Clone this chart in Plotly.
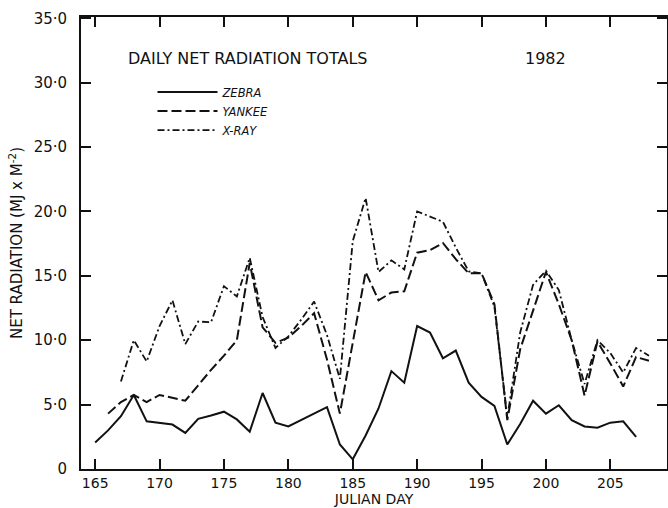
import plotly.graph_objects as go

# ---- data ----
zebra_days = list(range(165, 208))
zebra_vals = [2.05, 3.0, 4.1, 5.75, 3.7, 3.55, 3.45, 2.8, 3.9, 4.15,
              4.45, 3.85, 2.9, 5.9, 3.6, 3.3, 3.8, 4.3, 4.8, 1.9,
              0.75, 2.6, 4.7, 7.6, 6.7, 11.1, 10.6, 8.6, 9.2, 6.7,
              5.6, 4.9, 1.9, 3.5, 5.3, 4.3, 4.95, 3.8, 3.3, 3.2,
              3.6, 3.7, 2.5]

yankee_days = list(range(166, 209))
yankee_vals = [4.3, 5.2, 5.75, 5.2, 5.75, 5.55, 5.3, 6.5, 7.7, 8.8,
               10.0, 16.0, 11.0, 9.8, 10.2, 11.1, 12.1, 8.5, 4.3, 9.8,
               15.3, 13.1, 13.7, 13.8, 16.8, 17.0, 17.55, 16.3, 15.2, 15.2,
               12.8, 3.8, 9.3, 12.3, 15.3, 12.8, 10.0, 5.7, 9.9, 8.2,
               6.4, 8.7, 8.4]

xray_days = list(range(167, 209))
xray_vals = [6.8, 10.0, 8.35, 11.1, 13.1, 9.7, 11.45, 11.4, 14.2, 13.4,
             16.4, 11.8, 9.4, 10.3, 11.6, 13.0, 10.4, 7.0, 17.7, 21.05,
             15.3, 16.2, 15.5, 20.0, 19.6, 19.2, 17.2, 15.35, 15.2, 12.6,
             4.0, 10.6, 14.3, 15.4, 13.9, 10.0, 6.6, 10.0, 9.0, 7.5,
             9.4, 8.8]

x_ticks = [165, 170, 175, 180, 185, 190, 195, 200, 205]
y_ticks = [0, 5, 10, 15, 20, 25, 30, 35]
y_tick_labels = ["0", "5·0", "10·0", "15·0", "20·0", "25·0", "30·0", "35·0"]

title_text = "DAILY NET RADIATION TOTALS"
year_text = "1982"

INK = "#111111"
FONT = "DejaVu Sans"

fig = go.Figure()
fig.add_trace(go.Scatter(x=zebra_days, y=zebra_vals, mode="lines", name="ZEBRA",
                         line=dict(color=INK, width=2.0, dash="solid")))
fig.add_trace(go.Scatter(x=yankee_days, y=yankee_vals, mode="lines", name="YANKEE",
                         line=dict(color=INK, width=2.0, dash="10px,4px")))
fig.add_trace(go.Scatter(x=xray_days, y=xray_vals, mode="lines", name="X-RAY",
                         line=dict(color=INK, width=1.8, dash="7px,3px,2px,3px")))

axis_common = dict(showline=True, linecolor=INK, linewidth=1.8, mirror="ticks",
                   ticks="inside", ticklen=10, tickwidth=1.5, tickcolor=INK,
                   showgrid=False, zeroline=False, automargin=False)

fig.update_xaxes(range=[163.9, 209.4], tickvals=x_ticks,
                 ticktext=[str(v) for v in x_ticks], ticklabelstandoff=0,
                 tickfont=dict(family=FONT, size=14, color=INK),
                 title=dict(text="JULIAN DAY", font=dict(family=FONT, size=14, color=INK),
                            standoff=4),
                 **axis_common)
fig.update_yaxes(range=[0, 35.1], tickvals=y_ticks, ticktext=y_tick_labels,
                 ticklabelstandoff=9,
                 tickfont=dict(family=FONT, size=15, color=INK),
                 title=dict(text="NET RADIATION (MJ x M<sup>-2</sup>)",
                            font=dict(family=FONT, size=15, color=INK), standoff=7),
                 **axis_common)

fig.add_annotation(text=title_text, xref="paper", yref="paper", x=0.285, y=0.909,
                   xanchor="center", yanchor="middle",
                   showarrow=False, font=dict(family=FONT, size=16, color=INK))
fig.add_annotation(text=year_text, xref="paper", yref="paper", x=0.792, y=0.909,
                   xanchor="center", yanchor="middle",
                   showarrow=False, font=dict(family=FONT, size=16, color=INK))

fig.update_layout(
    width=668, height=508,
    margin=dict(l=81, r=1, t=17, b=39),
    paper_bgcolor="white", plot_bgcolor="white",
    showlegend=True,
    legend=dict(x=0.122, y=0.866, xanchor="left", yanchor="top",
                bgcolor="rgba(0,0,0,0)", borderwidth=0,
                font=dict(family=FONT, size=11.5, color=INK, style="italic"),
                itemwidth=60, tracegroupgap=0),
)

fig.write_html("out.html", config={"displayModeBar": False},
               post_script="document.body.style.margin='0';document.body.style.overflow='hidden';")
